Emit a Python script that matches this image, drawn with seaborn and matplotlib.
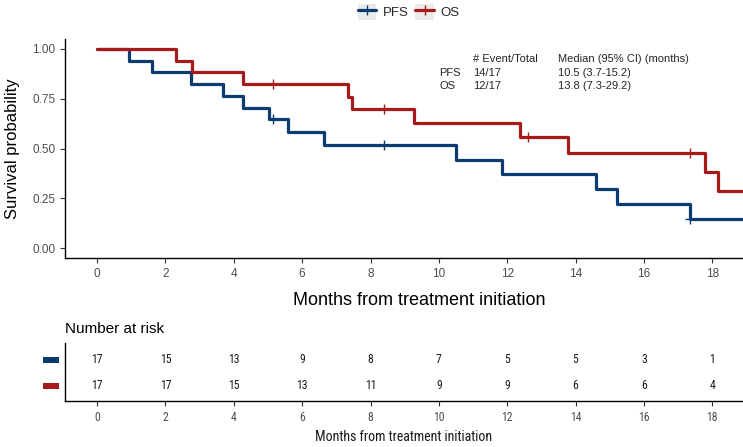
import numpy as np
import pandas as pd
import seaborn as sns
from matplotlib import pyplot as plt
from matplotlib.patches import Rectangle, Patch
from matplotlib.lines import Line2D
from matplotlib.legend_handler import HandlerTuple
import matplotlib.transforms as mtransforms

# follow-up times (months) and event flags (1 = event, 0 = censored)
pfs_times = [0.94, 1.61, 2.75, 3.68, 4.26, 5.04, 5.14, 5.60, 6.65, 8.40,
             10.50, 11.86, 14.61, 15.21, 17.36, 17.36, 20.50]
pfs_events = [1, 1, 1, 1, 1, 1, 0, 1, 1, 0, 1, 1, 1, 1, 1, 0, 1]
os_times = [2.30, 2.77, 4.26, 5.16, 7.33, 7.45, 8.40, 9.28, 12.37, 12.60,
            13.78, 17.36, 17.80, 18.18, 19.50, 20.50, 21.00]
os_events = [1, 1, 1, 0, 1, 1, 0, 1, 1, 0, 1, 0, 1, 1, 1, 1, 0]

risk_times = [0, 2, 4, 6, 8, 10, 12, 14, 16, 18]
pfs_at_risk = [17, 15, 13, 9, 8, 7, 5, 5, 3, 1]
os_at_risk = [17, 17, 15, 13, 11, 9, 9, 6, 6, 4]

summary_rows = [("PFS", "14/17", "10.5 (3.7-15.2)"),
                ("OS", "12/17", "13.8 (7.3-29.2)")]

BLUE = "#0B3B6F"
RED = "#A51B1B"
NARROW = ["Roboto Condensed", "Archivo Narrow", "DejaVu Sans"]


def kaplan_meier(times, events):
    t = np.asarray(times, float)
    e = np.asarray(events, int)
    xs, ys = [0.0], [1.0]
    cens_x, cens_y = [], []
    s = 1.0
    for u in np.unique(t):
        n = np.sum(t >= u)
        d = np.sum(e[t == u])
        if d > 0:
            s *= 1 - d / n
            xs.append(u)
            ys.append(s)
        if np.any((t == u) & (e == 0)):
            cens_x.append(u)
            cens_y.append(s)
    xs.append(t.max())
    ys.append(s)
    return xs, ys, cens_x, cens_y


sns.set_style("ticks")
plt.rcParams["font.family"] = ["Liberation Sans", "DejaVu Sans"]

fig = plt.figure(figsize=(7.43, 4.47), dpi=100)
ax = fig.add_axes([65 / 743, 1 - 258 / 447, 678 / 743, 219 / 447])
axr = fig.add_axes([65 / 743, 1 - 401 / 447, 678 / 743, 58 / 447])

frames = []
cens = {}
for name, tt, ee in [("PFS", pfs_times, pfs_events), ("OS", os_times, os_events)]:
    xs, ys, cx, cy = kaplan_meier(tt, ee)
    frames.append(pd.DataFrame({"time": xs, "surv": ys, "group": name}))
    cens[name] = (cx, cy)
curves = pd.concat(frames, ignore_index=True)

palette = {"PFS": BLUE, "OS": RED}
sns.lineplot(data=curves, x="time", y="surv", hue="group", palette=palette,
             estimator=None, sort=False, drawstyle="steps-post", lw=2.3,
             legend=False, ax=ax)
for name, (cx, cy) in cens.items():
    ax.plot(cx, cy, ls="none", marker="+", ms=6.5, mew=1.0, color=palette[name])

ax.set_xlim(-0.94, 18.9)
ax.set_ylim(-0.05, 1.05)
ax.set_xticks(range(0, 19, 2))
ax.set_yticks([0, 0.25, 0.5, 0.75, 1.0])
ax.set_yticklabels(["0.00", "0.25", "0.50", "0.75", "1.00"])
ax.tick_params(labelsize=8.5, labelcolor="#4D4D4D", color="#333333", length=3.5, width=0.8)
for side in ["top", "right"]:
    ax.spines[side].set_visible(False)
for side in ["left", "bottom"]:
    ax.spines[side].set_color("black")
    ax.spines[side].set_linewidth(1.0)
ax.set_xlabel("Months from treatment initiation", fontsize=13, color="black")
ax.set_ylabel("Survival probability", fontsize=12, color="black")
ax.xaxis.set_label_coords(0.522, -0.155)
ax.yaxis.set_label_coords(-0.066, 0.5)

# event/median summary table
ax.text(0.602, 0.909, "# Event/Total", transform=ax.transAxes, fontsize=8, va="center")
ax.text(0.727, 0.909, "Median (95% CI) (months)", transform=ax.transAxes, fontsize=8, va="center")
for i, (lab, ev, med) in enumerate(summary_rows):
    yy = 0.846 - i * 0.061
    ax.text(0.552, yy, lab, transform=ax.transAxes, fontsize=8, va="center")
    ax.text(0.602, yy, ev, transform=ax.transAxes, fontsize=8, va="center")
    ax.text(0.727, yy, med, transform=ax.transAxes, fontsize=8, va="center")

# legend
handles = [(Patch(facecolor="#EBEBEB", edgecolor="none"),
            Line2D([], [], color=BLUE, lw=2.3, marker="+", ms=7, mew=1.0)),
           (Patch(facecolor="#EBEBEB", edgecolor="none"),
            Line2D([], [], color=RED, lw=2.3, marker="+", ms=7, mew=1.0))]
fig.legend(handles, ["PFS", "OS"], handler_map={tuple: HandlerTuple(ndivide=1)},
           loc="center", bbox_to_anchor=(0.55, 0.973), ncol=2, frameon=False,
           fontsize=9.5, handlelength=1.4, handleheight=1.5, handletextpad=0.5,
           columnspacing=0.5, borderaxespad=0)

# number at risk table
for yrow, vals in [(1, pfs_at_risk), (0, os_at_risk)]:
    for t, v in zip(risk_times, vals):
        axr.text(t, yrow, str(v), ha="center", va="center", fontsize=8.5,
                 family=NARROW, color="#1A1A1A")
axr.set_xlim(-0.94, 18.9)
axr.set_ylim(-0.58, 1.65)
axr.set_xticks(risk_times)
axr.set_yticks([])
axr.tick_params(axis="x", labelsize=8.5, labelcolor="#4D4D4D", color="#333333", length=3.5, width=0.8)
for lab in axr.get_xticklabels():
    lab.set_family(NARROW)
for side in ["top", "right"]:
    axr.spines[side].set_visible(False)
for side in ["left", "bottom"]:
    axr.spines[side].set_color("black")
    axr.spines[side].set_linewidth(1.0)
axr.set_xlabel("Months from treatment initiation", fontsize=10, family=NARROW, color="#1A1A1A")
axr.xaxis.set_label_coords(0.5, -0.5)
axr.set_title("Number at risk", loc="left", fontsize=11, pad=7, color="black")

blend = mtransforms.blended_transform_factory(axr.transAxes, axr.transData)
for yrow, col in [(1, BLUE), (0, RED)]:
    axr.add_patch(Rectangle((-0.033, yrow - 0.1), 0.024, 0.2, transform=blend,
                            facecolor=col, edgecolor="none", clip_on=False))

fig.savefig("out.png", dpi=100)
